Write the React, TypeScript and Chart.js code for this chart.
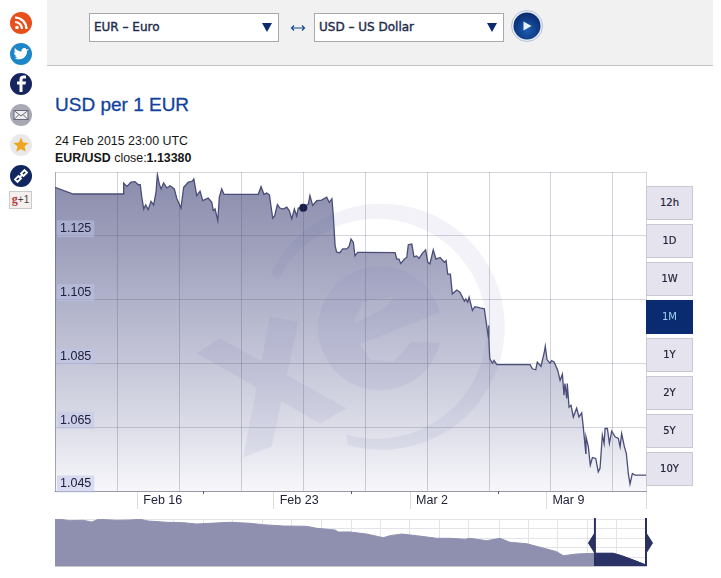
import React, { useEffect, useRef } from "react";
import { Chart, registerables } from "chart.js";

Chart.register(...registerables);

// Day numbers count from 1 Feb 2015 (Mar 2 = 30, Mar 9 = 37)
const mainDays = [11.775,12.71,15.28,15.3,15.46,15.68,15.88,16.05,16.15,16.23,16.33,16.43,16.56,16.7,16.84,16.96,17.03,17.13,17.22,17.35,17.51,17.68,17.9,18.02,18.24,18.38,18.62,18.82,18.9,19.05,19.22,19.36,19.64,19.82,19.9,19.99,20.13,20.21,20.33,20.45,22.21,22.35,22.5,22.64,22.78,22.95,23.05,23.19,23.32,23.49,23.67,23.8,23.93,24.06,24.18,24.26,24.52,24.78,24.86,25,25.21,25.46,25.72,25.85,25.99,26.06,26.15,26.23,26.4,26.54,26.75,26.87,26.97,27.09,27.17,27.31,27.52,29.23,29.32,29.43,29.52,29.71,29.83,29.91,30.09,30.2,30.34,30.46,30.63,30.8,30.91,31.02,31.19,31.33,31.54,31.76,31.85,31.93,32.07,32.17,32.4,32.56,32.79,32.86,32.96,33.03,33.2,33.33,33.59,33.81,33.93,34.02,34.03,34.05,34.09,34.22,34.31,34.45,35.76,36.16,36.28,36.45,36.53,36.72,36.89,36.94,37.03,37.18,37.27,37.4,37.58,37.7,37.82,37.9,37.95,38.04,38.07,38.16,38.26,38.38,38.55,38.67,38.81,38.89,39.02,39.03,39.15,39.25,39.36,39.53,39.66,39.75,39.84,39.87,39.96,40.01,40.13,40.23,40.35,40.52,40.69,40.78,40.86,41,41.1,41.17,41.2,41.29,41.41,41.55,42.11];
const mainValues = [1.1402,1.1381,1.1381,1.1415,1.1405,1.1418,1.142,1.141,1.141,1.1371,1.1334,1.1347,1.1332,1.1358,1.1347,1.1387,1.1442,1.1412,1.1397,1.1416,1.14,1.1407,1.1397,1.1368,1.1337,1.1402,1.1418,1.1421,1.1428,1.1376,1.139,1.136,1.1368,1.1355,1.1329,1.1334,1.1298,1.1371,1.1397,1.138,1.138,1.1404,1.138,1.1384,1.1378,1.1305,1.1312,1.1348,1.1337,1.1334,1.134,1.1329,1.1303,1.1334,1.1312,1.1337,1.1338,1.135,1.1376,1.1345,1.136,1.1362,1.1371,1.1355,1.1366,1.1313,1.122,1.1199,1.1197,1.1209,1.1209,1.1217,1.124,1.1229,1.1187,1.1198,1.1198,1.1197,1.1177,1.1177,1.1163,1.1177,1.1182,1.1222,1.1224,1.1184,1.1187,1.1179,1.1195,1.1206,1.1167,1.1162,1.1206,1.1177,1.1182,1.1167,1.1172,1.113,1.113,1.1068,1.108,1.1073,1.1045,1.1052,1.1042,1.1057,1.1016,1.1028,1.1024,1.1021,1.0969,1.0932,1.0969,1.0932,1.0865,1.0851,1.0859,1.0846,1.0846,1.0846,1.0833,1.083,1.0854,1.0841,1.0885,1.0904,1.0862,1.0851,1.0859,1.0854,1.0828,1.0797,1.0816,1.075,1.0787,1.074,1.0787,1.0713,1.0719,1.0682,1.071,1.0682,1.0695,1.0651,1.0568,1.062,1.0589,1.0531,1.0555,1.0552,1.051,1.0521,1.0599,1.0625,1.0599,1.0646,1.0646,1.0599,1.0638,1.062,1.0615,1.0589,1.063,1.0589,1.0568,1.0526,1.0505,1.0472,1.0505,1.05,1.05];
const markerDay = 24.52;
const markerValue = 1.1338;

const xMin = 11.775;
const xMax = 42.11;
const yMin = 1.045;
const yMax = 1.145;
const yTicks = [1.045, 1.065, 1.085, 1.105, 1.125, 1.145];
const gridDays = [14.99, 18.16, 21.34, 24.52, 27.69, 30.89, 34.07, 37.23, 40.4];
const labelDays = [16, 23, 30, 37];
const dateLabels = ["Feb 16", "Feb 23", "Mar 2", "Mar 9"];
const minorDays = [19.39, 26.97, 34.51];

// Overview strip: days before the end of the range
const navDays = [-351.8,-348.8,-342.9,-334.9,-329.9,-326,-315.1,-307.1,-301.2,-296.3,-285.3,-275.4,-267.4,-259.5,-247.6,-235.7,-227.8,-215.9,-202,-196,-185.1,-183.2,-176.2,-166.3,-156.4,-152.4,-145.4,-136.5,-124.6,-116.7,-107.7,-104.8,-94.8,-86.9,-81,-71,-59.1,-53.2,-49.2,-41.3,-30.4,-19.5,-14.5,-7.6,0];
const navValues = [1.395,1.3928,1.3823,1.3853,1.3725,1.3928,1.3853,1.3875,1.3928,1.38,1.3703,1.3673,1.3575,1.3628,1.3703,1.3628,1.3523,1.3425,1.3403,1.3253,1.3125,1.2975,1.2975,1.2825,1.2548,1.2698,1.2825,1.2698,1.2503,1.2503,1.2428,1.2503,1.2323,1.2503,1.2203,1.2098,1.17,1.1498,1.1198,1.1325,1.1378,1.1378,1.1198,1.0875,1.05];
const navSelection = [-30.4, 0];
const navGridDays = [-17.4,-35,-52.7,-70,-87.5,-105.5,-123,-140.5,-158,-175.5,-193,-211,-228,-246,-263.5,-281,-298.5,-316,-334];
const navGridValues = [1.395,1.3236,1.2486,1.1786,1.1086];

const rangeButtons = ["12h", "1D", "1W", "1M", "1Y", "2Y", "5Y", "10Y"];
const activeRange = "1M";

const CANVAS_LEFT = 47;
const CANVAS_TOP = 165;

const fontFamily = "'Liberation Sans', Arial, sans-serif";

const poly = (ctx: CanvasRenderingContext2D, pts: number[][]) => {
  pts.forEach(([x, y], i) => (i ? ctx.lineTo(x, y) : ctx.moveTo(x, y)));
  ctx.closePath();
};

const noPadding = (s: any) => {
  s.paddingTop = 0;
  s.paddingBottom = 0;
  s.paddingLeft = 0;
  s.paddingRight = 0;
};

const watermark = {
  id: "watermark",
  afterDatasetsDraw(chart: any) {
    const { ctx, chartArea: a } = chart;
    ctx.save();
    ctx.beginPath();
    ctx.rect(a.left, a.top, a.right - a.left, a.bottom - a.top);
    ctx.clip();
    ctx.translate(-CANVAS_LEFT, -CANVAS_TOP);
    ctx.fillStyle = "rgba(110,110,180,0.09)";
    // x
    ctx.beginPath();
    poly(ctx, [[196.7, 353.3], [220, 338.3], [346.7, 408.3], [320, 423.3]]);
    poly(ctx, [[270, 316.7], [298.3, 321.7], [271.7, 446.7], [243.3, 457.3]]);
    ctx.fill("nonzero");
    // ring
    const rad = Math.PI / 180;
    ctx.beginPath();
    ctx.arc(381.7, 326.7, 123, 206 * rad, 466 * rad, false);
    ctx.arc(376.7, 328.7, 110, 466 * rad, 206 * rad, true);
    ctx.closePath();
    ctx.fill();
    // e
    ctx.beginPath();
    ctx.arc(380, 328.3, 62, 13.7 * rad, 345 * rad, false);
    ctx.lineTo(360, 344);
    ctx.lineTo(370, 360);
    ctx.lineTo(393.3, 361.7);
    ctx.lineTo(411.7, 341.7);
    ctx.closePath();
    poly(ctx, [[353.3, 321.7], [363.3, 301.7], [393.3, 296.7], [386.7, 306.7], [356.7, 323.3]]);
    ctx.fill("evenodd");
    ctx.restore();
  },
  afterDraw(chart: any) {
    const { ctx, scales } = chart;
    ctx.save();
    ctx.strokeStyle = "#55586f";
    ctx.lineWidth = 1;
    minorDays.forEach((d) => {
      const x = Math.round(scales.x.getPixelForValue(d)) + 0.5;
      ctx.beginPath();
      ctx.moveTo(x, chart.chartArea.bottom);
      ctx.lineTo(x, chart.chartArea.bottom + 3);
      ctx.stroke();
    });
    ctx.restore();
  },
};

const navWindow = {
  id: "navWindow",
  afterDraw(chart: any) {
    const { ctx, scales, chartArea: a } = chart;
    const color = "#2a3160";
    const xs = navSelection.map((d) => scales.x.getPixelForValue(d));
    const mid = a.top + 24;
    ctx.save();
    ctx.strokeStyle = color;
    ctx.fillStyle = color;
    ctx.lineWidth = 2;
    xs.forEach((x, i) => {
      ctx.beginPath();
      ctx.moveTo(x, a.top - 1);
      ctx.lineTo(x, a.bottom);
      ctx.stroke();
      const dir = i === 0 ? -1 : 1;
      ctx.beginPath();
      poly(ctx, [[x, mid - 11], [x + dir * 7, mid], [x, mid + 11]]);
      ctx.fill();
    });
    ctx.restore();
  },
};

function Pin({ y, fill, children }: { y: number; fill: string; children?: React.ReactNode }) {
  return (
    <svg width="24" height="24" viewBox="-12 -12 24 24" style={{ position: "absolute", left: 9, top: y - 12 }}>
      <circle r="11" fill={fill} />
      {children}
    </svg>
  );
}

function Select({ left, label }: { left: number; label: string }) {
  return (
    <div
      style={{
        position: "absolute", left, top: 13, width: 188, height: 27, background: "#fff",
        border: "1px solid #a9a9ad",
      }}
    >
      <span
        style={{
          position: "absolute", left: 4, top: 6, font: "12px 'DejaVu Sans', sans-serif", color: "#1f2c4c",
          WebkitTextStroke: "0.4px #1f2c4c", whiteSpace: "nowrap",
        }}
      >
        {label}
      </span>
      <div
        style={{
          position: "absolute", left: 172, top: 9, width: 0, height: 0, borderLeft: "5px solid transparent",
          borderRight: "5px solid transparent", borderTop: "9px solid #0c2a70",
        }}
      />
    </div>
  );
}

export default function App() {
  const mainRef = useRef<HTMLCanvasElement>(null);
  const navRef = useRef<HTMLCanvasElement>(null);

  useEffect(() => {
    const main = new Chart(mainRef.current as HTMLCanvasElement, {
      type: "line",
      plugins: [watermark],
      data: {
        datasets: [
          {
            data: [{ x: markerDay, y: markerValue }],
            pointRadius: 4,
            pointBackgroundColor: "#191e48",
            pointBorderWidth: 0,
            showLine: false,
            order: 0,
          },
          {
            data: mainDays.map((x, i) => ({ x, y: mainValues[i] })),
            borderColor: "#4a4d78",
            borderWidth: 1.3,
            pointRadius: 0,
            tension: 0,
            fill: "start",
            order: 1,
            backgroundColor: ({ chart }: any) => {
              const { ctx, chartArea } = chart;
              if (!chartArea) return "#b0b2ca";
              const g = ctx.createLinearGradient(0, chartArea.top, 0, chartArea.bottom);
              g.addColorStop(0, "#898bab");
              g.addColorStop(0.2, "#9b9db9");
              g.addColorStop(0.4, "#b0b2ca");
              g.addColorStop(0.6, "#c5c6d8");
              g.addColorStop(0.8, "#dcdde8");
              g.addColorStop(1, "#f7f7fb");
              return g;
            },
          },
        ],
      } as any,
      options: {
        responsive: false,
        animation: false,
        events: [],
        layout: { padding: { left: 8, top: 7, right: 21, bottom: 0 } },
        plugins: { legend: { display: false }, tooltip: { enabled: false } },
        scales: {
          x: {
            type: "linear",
            min: xMin,
            max: xMax,
            afterFit: (s: any) => { s.height = 24; noPadding(s); },
            afterBuildTicks: (s: any) => {
              s.ticks = [...gridDays, ...labelDays, xMax].sort((a, b) => a - b).map((value) => ({ value }));
            },
            grid: {
              z: 1,
              tickLength: 18,
              color: (c: any) => (labelDays.includes(c.tick?.value) ? "rgba(0,0,0,0)" : "rgba(70,70,100,0.24)"),
              tickColor: (c: any) =>
                labelDays.includes(c.tick?.value) || c.tick?.value === xMax ? "#dcdcdc" : "rgba(0,0,0,0)",
            },
            border: { display: true, color: "#9a9aa6", z: 2 },
            ticks: {
              z: 2,
              autoSkip: false,
              maxRotation: 0,
              align: "start",
              labelOffset: 6,
              padding: -16,
              color: "#23233a",
              font: { family: fontFamily, size: 12.5 },
              callback: (v: any) => {
                const i = labelDays.indexOf(Number(v));
                return i >= 0 ? dateLabels[i] : "";
              },
            },
          },
          y: {
            type: "linear",
            min: yMin,
            max: yMax,
            afterFit: (s: any) => { s.width = 0; noPadding(s); },
            afterBuildTicks: (s: any) => { s.ticks = yTicks.map((value) => ({ value })); },
            grid: { z: 1, drawTicks: false, color: "rgba(70,70,100,0.22)" },
            border: { display: true, color: "rgba(70,70,100,0.45)", z: 2 },
            ticks: {
              z: 2,
              mirror: true,
              padding: 5,
              labelOffset: -7,
              autoSkip: false,
              color: "#20203a",
              font: { family: fontFamily, size: 12.5 },
              showLabelBackdrop: true,
              backdropColor: (c: any) => (c.tick?.value === yMax ? "rgba(0,0,0,0)" : "rgba(190,195,232,0.5)"),
              backdropPadding: { x: 3, y: 1 },
              callback: (v: any) => (Number(v) === yMax ? "" : Number(v).toFixed(3)),
            },
          },
        },
      } as any,
    });

    const selectionData = navDays
      .map((x, i) => ({ x, y: navValues[i] }))
      .filter((p) => p.x >= navSelection[0]);

    const nav = new Chart(navRef.current as HTMLCanvasElement, {
      type: "line",
      plugins: [navWindow],
      data: {
        datasets: [
          {
            data: selectionData,
            borderColor: "#2b3266",
            borderWidth: 1,
            backgroundColor: "#2b3266",
            pointRadius: 0,
            fill: "start",
            order: 0,
          },
          {
            data: navDays.map((x, i) => ({ x, y: navValues[i] })),
            borderColor: "#8f90b0",
            borderWidth: 1,
            backgroundColor: "#8f90b0",
            pointRadius: 0,
            fill: "start",
            order: 1,
          },
        ],
      } as any,
      options: {
        responsive: false,
        animation: false,
        events: [],
        layout: { padding: { left: 8, top: 7, right: 21, bottom: 8 } },
        plugins: { legend: { display: false }, tooltip: { enabled: false } },
        scales: {
          x: {
            type: "linear",
            min: navDays[0],
            max: 0,
            afterFit: (s: any) => { s.height = 0; noPadding(s); },
            afterBuildTicks: (s: any) => { s.ticks = navGridDays.map((value) => ({ value })); },
            grid: { drawTicks: false, color: "#e4e4e8" },
            border: { display: true, color: "#c9c9d0" },
            ticks: { display: false, autoSkip: false },
          },
          y: {
            type: "linear",
            min: 1.0425,
            max: 1.395,
            afterFit: (s: any) => { s.width = 0; noPadding(s); },
            afterBuildTicks: (s: any) => { s.ticks = navGridValues.map((value) => ({ value })); },
            grid: { drawTicks: false, color: "#e4e4e8" },
            border: { display: false },
            ticks: { display: false, autoSkip: false },
          },
        },
      } as any,
    });

    return () => {
      main.destroy();
      nav.destroy();
    };
  }, []);

  const textBase: React.CSSProperties = { position: "absolute", fontFamily, whiteSpace: "nowrap" };

  return (
    <div style={{ position: "fixed", left: 0, top: 0, width: 721, height: 578, background: "#fff", overflow: "hidden" }}>
      {/* share icons */}
      <Pin y={23} fill="#e5501c">
        <circle cx="-4" cy="4.5" r="1.8" fill="#fff" />
        <path d="M-6 -1 A7 7 0 0 1 1 6 M-6 -5.5 A11.5 11.5 0 0 1 5.5 6" stroke="#fff" strokeWidth="2.2" fill="none" />
      </Pin>
      <Pin y={54} fill="#1c86c8">
        <path d="M-7 4 C-2 7 6 5 6 -3 L8 -5 L5.5 -4.6 C4 -7 0 -6 0.5 -2.5 C-2 -2.6 -4.5 -4 -6 -6 C-7 -4 -6.5 -2 -5.5 -1.2 L-7 -1.6 C-7 0 -6 1.5 -4.5 2 C-5 2.3 -5.5 2.2 -6 2.2 C-5.5 3 -4.5 3.6 -3.5 3.6 C-4.5 4.3 -6 4.4 -7 4 Z" fill="#fff" />
      </Pin>
      <Pin y={84} fill="#16255e">
        <path d="M1.5 8 V0.5 H4.5 L5 -2.5 H1.5 V-4 C1.5 -5.2 2 -5.6 3 -5.6 H5 V-8.4 C2 -8.8 -1.5 -8.5 -1.5 -4.5 V-2.5 H-4 V0.5 H-1.5 V8 Z" fill="#fff" />
      </Pin>
      <Pin y={115} fill="#a9a9b4">
        <rect x="-7" y="-4.5" width="14" height="9" fill="#eee" stroke="#666a80" strokeWidth="1" />
        <path d="M-7 -4.5 L0 1 L7 -4.5 M-7 4.5 L-2 -0.5 M7 4.5 L2 -0.5" stroke="#666a80" strokeWidth="1" fill="none" />
      </Pin>
      <Pin y={145} fill="#e9e9ea">
        <path d="M0 -7.5 L2.2 -2.5 L7.5 -2 L3.5 1.5 L4.7 6.8 L0 4 L-4.7 6.8 L-3.5 1.5 L-7.5 -2 L-2.2 -2.5 Z" fill="#f0a51e" />
      </Pin>
      <Pin y={176} fill="#10265f">
        <path d="M-6 3.5 L-2.5 0 L0 2.5 L-3.5 6 Z M6 -3.5 L2.5 0 L0 -2.5 L3.5 -6 Z M-2 2 L2 -2" stroke="#fff" strokeWidth="1.8" fill="none" />
      </Pin>
      <div
        style={{
          position: "absolute", left: 9, top: 191, width: 21, height: 16, border: "1px solid #c9c9c9", background: "#f5f0f0",
          font: "bold 12px 'Liberation Serif', serif", color: "#b23b3b", textAlign: "center", lineHeight: "15px",
        }}
      >
        g<span style={{ color: "#444", fontFamily, fontWeight: 400, fontSize: 10 }}>+1</span>
      </div>

      {/* currency bar */}
      <div style={{ position: "absolute", left: 47, top: 0, width: 666, height: 65, background: "#f1f1f2", borderBottom: "1px solid #c2c2c4" }} />
      <Select left={89} label="EUR – Euro" />
      <Select left={314} label="USD – US Dollar" />
      <svg width="16" height="8" style={{ position: "absolute", left: 290, top: 24 }}>
        <path d="M1.5 4 H14.5 M4 1.5 L1.5 4 L4 6.5 M12 1.5 L14.5 4 L12 6.5" stroke="#174a8c" strokeWidth="1.2" fill="none" />
      </svg>
      <svg width="32" height="32" viewBox="-16 -16 32 32" style={{ position: "absolute", left: 511, top: 10 }}>
        <defs>
          <radialGradient id="go" cx="50%" cy="65%" r="60%">
            <stop offset="0%" stopColor="#1a5cb0" />
            <stop offset="100%" stopColor="#0a2d72" />
          </radialGradient>
        </defs>
        <circle r="15.5" fill="#e8eef5" stroke="#9fb2c8" strokeWidth="0.7" />
        <circle r="13.5" fill="url(#go)" />
        <path d="M-3.5 -4.5 L4.5 0 L-3.5 4.5 Z" fill="#e8f2fb" />
      </svg>

      {/* titles */}
      <div style={{ ...textBase, left: 55, top: 94, fontSize: 19, lineHeight: "22px", color: "#0f429c", WebkitTextStroke: "0.3px #0f429c" }}>USD per 1 EUR</div>
      <div style={{ ...textBase, left: 55, top: 134, fontSize: 12.4, lineHeight: "14px", color: "#161616" }}>24 Feb 2015 23:00 UTC</div>
      <div style={{ ...textBase, left: 55, top: 151, fontSize: 12.4, lineHeight: "14px", color: "#161616" }}>
        <b>EUR/USD</b> close:<b>1.13380</b>
      </div>

      <canvas
        ref={mainRef}
        width={620}
        height={350}
        style={{ position: "absolute", left: CANVAS_LEFT, top: CANVAS_TOP, width: 620, height: 350, display: "block" }}
      />
      <canvas
        ref={navRef}
        width={620}
        height={62}
        style={{ position: "absolute", left: CANVAS_LEFT, top: 512, width: 620, height: 62, display: "block" }}
      />

      {/* range buttons */}
      {rangeButtons.map((b, i) => {
        const on = b === activeRange;
        return (
          <div
            key={b}
            style={{
              position: "absolute", left: 646, top: 186 + i * 38, width: 47, height: 34, boxSizing: "border-box",
              background: on ? "#0a2b6f" : "#e5e4ee", border: on ? "none" : "1px solid #c8c8d0",
              color: on ? "#9fd3ef" : "#23233a", textAlign: "center",
              font: "10px 'DejaVu Sans', sans-serif",
              lineHeight: on ? "34px" : "32px",
              WebkitTextStroke: on ? "0" : "0.2px #23233a",
            }}
          >
            {b}
          </div>
        );
      })}
    </div>
  );
}
